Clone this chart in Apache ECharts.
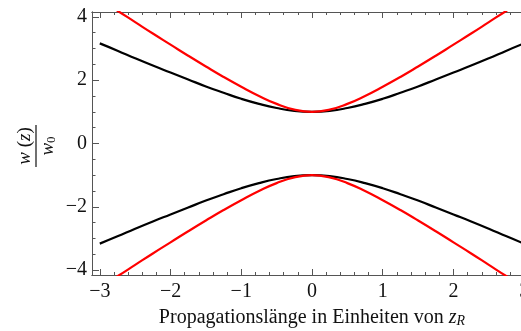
<!DOCTYPE html>
<html>
<head>
<meta charset="utf-8">
<script src="https://cdn.jsdelivr.net/npm/echarts@6/dist/echarts.min.js"></script>
<style>
html, body { margin: 0; padding: 0; background: #fff; }
#chart { width: 521px; height: 331px; }
</style>
</head>
<body>
<div id="chart"></div>
<script type="text/javascript">

// z in Einheiten von z_R
var zValues = [-3, -2.75, -2.5, -2.25, -2, -1.75, -1.5, -1.25, -1, -0.75, -0.5, -0.25, 0,
               0.25, 0.5, 0.75, 1, 1.25, 1.5, 1.75, 2, 2.25, 2.5, 2.75, 3];

// w(z)/w0, schwarz (oben / unten)
var blackUpper = [3.16, 2.93, 2.69, 2.46, 2.24, 2.02, 1.80, 1.60, 1.41, 1.25, 1.12, 1.03, 1.00,
                  1.03, 1.12, 1.25, 1.41, 1.60, 1.80, 2.02, 2.24, 2.46, 2.69, 2.93, 3.16];
var blackLower = [-3.16, -2.93, -2.69, -2.46, -2.24, -2.02, -1.80, -1.60, -1.41, -1.25, -1.12, -1.03, -1.00,
                  -1.03, -1.12, -1.25, -1.41, -1.60, -1.80, -2.02, -2.24, -2.46, -2.69, -2.93, -3.16];

// rot (oben / unten)
var redUpper = [4.54, 4.19, 3.83, 3.47, 3.12, 2.77, 2.43, 2.10, 1.79, 1.50, 1.25, 1.07, 1.00,
                1.07, 1.25, 1.50, 1.79, 2.10, 2.43, 2.77, 3.12, 3.47, 3.83, 4.19, 4.54];
var redLower = [-4.54, -4.19, -3.83, -3.47, -3.12, -2.77, -2.43, -2.10, -1.79, -1.50, -1.25, -1.07, -1.00,
                -1.07, -1.25, -1.50, -1.79, -2.10, -2.43, -2.77, -3.12, -3.47, -3.83, -4.19, -4.54];

// Ticks
var xMajor = [-3, -2, -1, 0, 1, 2, 3];
var xMinor = [-3.0, -2.8, -2.6, -2.4, -2.2, -2.0, -1.8, -1.6, -1.4, -1.2, -1.0, -0.8, -0.6, -0.4, -0.2, 0,
              0.2, 0.4, 0.6, 0.8, 1.0, 1.2, 1.4, 1.6, 1.8, 2.0, 2.2, 2.4, 2.6, 2.8, 3.0];
var yMajor = [-4, -2, 0, 2, 4];
var yMinor = [-4, -3.5, -3, -2.5, -2, -1.5, -1, -0.5, 0, 0.5, 1, 1.5, 2, 2.5, 3, 3.5, 4];

var serif = '"Liberation Serif", "DejaVu Serif", serif';
var frameColor = '#555';

function pairs(xs, ys) {
    var out = [];
    for (var i = 0; i < xs.length; i++) out.push([xs[i], ys[i]]);
    return out;
}

function minusFmt(v) {
    return v < 0 ? '\u2212' + (-v) : String(v);
}

function xAxisDef(pos, values, len, labels, name) {
    return {
        type: 'value', position: pos, min: -3.11, max: 3.11,
        axisLine: { show: true, onZero: false, lineStyle: { color: frameColor, width: 1 } },
        axisTick: { show: true, inside: true, length: len, customValues: values,
                    lineStyle: { color: frameColor, width: 1 } },
        axisLabel: labels ? { show: true, customValues: values, formatter: minusFmt, margin: 7,
                              color: '#111', fontFamily: serif, fontSize: 20 } : { show: false },
        splitLine: { show: false },
        name: name || '',
        nameLocation: 'middle', nameGap: 32,
        nameTextStyle: {
            color: '#111', fontFamily: serif, fontSize: 20,
            rich: {
                i: { fontFamily: serif, fontSize: 20, fontStyle: 'italic', color: '#111' },
                s: { fontFamily: serif, fontSize: 14, fontStyle: 'italic', color: '#111',
                     verticalAlign: 'bottom', padding: [7, 0, 0, 0] }
            }
        }
    };
}

function yAxisDef(values, len, labels) {
    return {
        type: 'value', position: 'left', min: -4.15, max: 4.15,
        axisLine: { show: true, onZero: false, lineStyle: { color: frameColor, width: 1 } },
        axisTick: { show: true, inside: true, length: len, customValues: values,
                    lineStyle: { color: frameColor, width: 1 } },
        axisLabel: labels ? { show: true, customValues: values, formatter: minusFmt, margin: 5,
                              color: '#111', fontFamily: serif, fontSize: 20 } : { show: false },
        splitLine: { show: false }
    };
}

function line(data, color) {
    return {
        type: 'line', data: data, xAxisIndex: 0, yAxisIndex: 0,
        smooth: true, showSymbol: false, symbol: 'none', clip: true,
        lineStyle: { color: color, width: 2.2 }, silent: true
    };
}

var chart = echarts.init(document.getElementById('chart'));

var option = {
    animation: false,
    backgroundColor: '#fff',
    grid: { left: 92, top: 12, bottom: 56, right: -11, outerBoundsMode: 'none', containLabel: false },
    xAxis: [
        xAxisDef('bottom', xMajor, 6, true, 'Propagationsl\u00e4nge in Einheiten von {i|z}{s|R}'),
        xAxisDef('bottom', xMinor, 3, false),
        xAxisDef('top', xMajor, 6, false),
        xAxisDef('top', xMinor, 3, false)
    ],
    yAxis: [
        yAxisDef(yMajor, 7, true),
        yAxisDef(yMinor, 3.5, false)
    ],
    series: [
        line(pairs(zValues, blackUpper), '#000'),
        line(pairs(zValues, blackLower), '#000'),
        line(pairs(zValues, redUpper), '#f00'),
        line(pairs(zValues, redLower), '#f00')
    ],
    graphic: [{
        type: 'group', x: 36, y: 146, rotation: Math.PI / 2,
        children: [
            { type: 'text', x: 0, y: -11,
              style: { text: '{i|w} ({i|z})', textAlign: 'center', textVerticalAlign: 'middle',
                       font: '19px ' + serif, fill: '#111',
                       rich: { i: { fontFamily: serif, fontSize: 19, fontStyle: 'italic', fill: '#111' } } } },
            { type: 'line', shape: { x1: -21, y1: 0, x2: 21, y2: 0 },
              style: { stroke: '#111', lineWidth: 1.2 } },
            { type: 'text', x: 0, y: 12,
              style: { text: '{i|w}{s|0}', textAlign: 'center', textVerticalAlign: 'middle',
                       font: '19px ' + serif, fill: '#111',
                       rich: { i: { fontFamily: serif, fontSize: 19, fontStyle: 'italic', fill: '#111' },
                               s: { fontFamily: serif, fontSize: 13, fill: '#111',
                                    verticalAlign: 'bottom', padding: [7, 0, 0, 0] } } } }
        ]
    }]
};

chart.setOption(option);

</script>
</body>
</html>
